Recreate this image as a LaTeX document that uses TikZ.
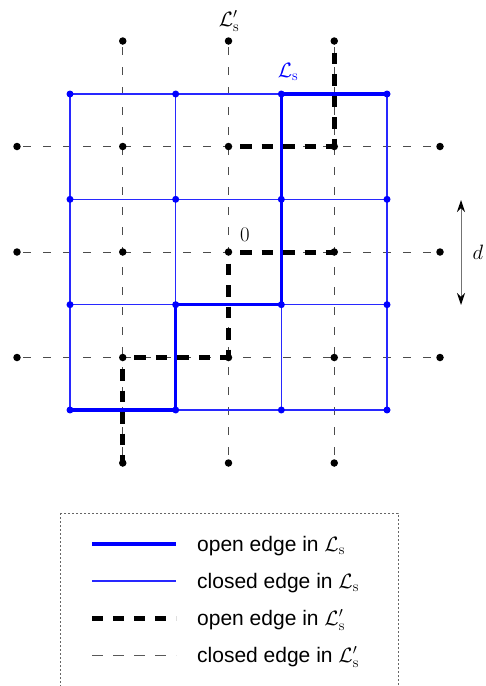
\documentclass[tikz,border=0pt]{standalone}
\usepackage{fontspec}
\setsansfont{Liberation Sans}
\usetikzlibrary{arrows.meta}
\definecolor{latblue}{RGB}{0,0,255}
\definecolor{thinblue}{RGB}{40,40,255}
\tikzset{
  blueedge/.style={draw=thinblue, line width=1.1pt},
  blueopen/.style={draw=latblue, line width=3.6pt},
  dualedge/.style={draw=black!70, line width=1pt, dash pattern=on 8pt off 12pt, dash phase=-6pt},
  dualopen/.style={draw=black, line width=5pt, dash pattern=on 11.5pt off 10pt, dash phase=10pt},
  legdualopen/.style={draw=black, line width=5pt, dash pattern=on 10.5pt off 10.5pt},
  legdualedge/.style={draw=black!65, line width=1pt, dash pattern=on 10.5pt off 10.5pt},
  bdot/.style={circle, fill=latblue, inner sep=0pt, minimum size=7pt},
  ddot/.style={circle, fill=black, inner sep=0pt, minimum size=7.5pt},
  lbl/.style={font=\fontsize{21}{25}\selectfont, inner sep=0pt},
  legtext/.style={font=\sffamily\fontsize{21}{25}\selectfont, anchor=base west, inner sep=0pt},
  legbox/.style={draw=black!60, line width=0.8pt, dash pattern=on 2pt off 2pt},
}
\begin{document}
\begin{tikzpicture}[x=1pt,y=-1pt]
\clip (0,0) rectangle (486,686);
% lattice coordinates
\foreach \i in {0,...,3}{
  \foreach \j in {0,...,3}{
    \coordinate (b\i\j) at ({70+105.67*\i},{94+105.33*\j});
  }
}
\foreach \i in {0,...,4}{
  \foreach \j in {0,...,4}{
    \coordinate (d\i\j) at ({17+105.75*\i},{41+105.5*\j});
  }
}
% dual lattice closed edges
\foreach \j in {1,2,3}{
  \draw[dualedge] (d0\j) -- (d4\j);
}
\foreach \i in {1,2,3}{
  \draw[dualedge] (d\i0) -- (d\i4);
}
% dual lattice open edges
\draw[dualopen] (d30) -- (d31);
\draw[dualopen] (d21) -- (d31);
\draw[dualopen] (d22) -- (d32);
\draw[dualopen] (d22) -- (d23);
\draw[dualopen] (d13) -- (d23);
\draw[dualopen] (d13) -- (d14);
% primal lattice closed edges
\foreach \j in {0,...,3}{
  \draw[blueedge] (b0\j) -- (b3\j);
}
\foreach \i in {0,...,3}{
  \draw[blueedge] (b\i0) -- (b\i3);
}
% primal open edges
\draw[blueopen] (b20) -- (b30);
\draw[blueopen] (b20) -- (b22);
\draw[blueopen] (b12) -- (b22);
\draw[blueopen] (b12) -- (b13);
\draw[blueopen] (b03) -- (b13);
% dots
\foreach \i in {0,...,3}{
  \foreach \j in {0,...,3}{
    \node[bdot] (nb\i\j) at (b\i\j) {};
  }
}
\foreach \i/\j in {1/0,2/0,3/0,0/1,1/1,2/1,3/1,4/1,0/2,1/2,2/2,3/2,4/2,0/3,1/3,2/3,3/3,4/3,1/4,2/4,3/4}{
  \node[ddot] (nd\i\j) at (d\i\j) {};
}
% labels
\node[lbl, text=latblue] (lLs) at (288,72) {$\mathcal{L}_{\mathrm{s}}$};
\node[lbl] (lLd) at (229,21) {$\mathcal{L}'_{\mathrm{s}}$};
\node[lbl] (zero) at (245,235) {$0$};
\node[lbl] (dlab) at (478,252) {$d$};
% d arrow
\coordinate (dtop) at (461,200);
\coordinate (dbot) at (461,305);
\draw[draw=black!55, line width=1pt, {Stealth[black,length=12pt,width=8pt]}-{Stealth[black,length=12pt,width=8pt]}] (dtop) -- (dbot);
% legend
\draw[legbox] (60,513) rectangle (398,700);
\coordinate (la1) at (92,544); \coordinate (lb1) at (176,544);
\coordinate (la2) at (92,581); \coordinate (lb2) at (176,581);
\coordinate (la3) at (92,618); \coordinate (lb3) at (176,618);
\coordinate (la4) at (92,655); \coordinate (lb4) at (176,655);
\draw[blueopen] (la1) -- (lb1);
\draw[blueedge] (la2) -- (lb2);
\draw[legdualopen] (la3) -- (lb3);
\draw[legdualedge] (la4) -- (lb4);
\node[legtext] (t1) at (197,551) {open edge in $\mathcal{L}_{\mathrm{s}}$};
\node[legtext] (t2) at (197,588) {closed edge in $\mathcal{L}_{\mathrm{s}}$};
\node[legtext] (t3) at (197,625) {open edge in $\mathcal{L}'_{\mathrm{s}}$};
\node[legtext] (t4) at (197,662) {closed edge in $\mathcal{L}'_{\mathrm{s}}$};
\end{tikzpicture}
\end{document}
